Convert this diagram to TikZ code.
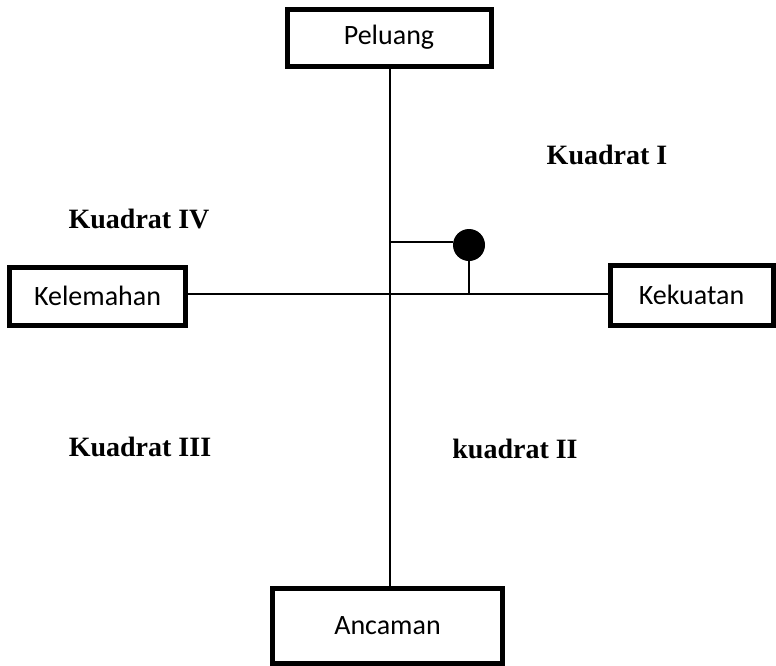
\documentclass[tikz,border=0pt]{standalone}
\usepackage{fontspec}
\setmainfont{Liberation Serif}
\newfontfamily\boxfont{Carlito}
\begin{document}
\begin{tikzpicture}[x=1pt,y=-1pt,
  lbl/.style={draw=black,line width=5pt,fill=white,font=\boxfont\fontsize{28}{30}\selectfont,inner sep=0pt},
  quad/.style={font=\bfseries\fontsize{28}{30}\selectfont,inner sep=0pt},
  axis/.style={line width=2pt}]
\useasboundingbox (0,0) rectangle (776,665);
% axes
\coordinate (vt) at (390,66);
\coordinate (vb) at (390,588);
\coordinate (hl) at (188,294);
\coordinate (hr) at (764,294);
\draw[axis] (vt) -- (vb);
\draw[axis] (hl) -- (hr);
% boxes
\node[lbl,minimum width=204,minimum height=57] (pel) at (389,37.5) {Peluang};
\node[lbl,minimum width=176,minimum height=58] (kel) at (97.5,296) {Kelemahan};
\node[lbl,minimum width=163,minimum height=60] (kek) at (691.5,295) {Kekuatan};
\node[lbl,minimum width=230,minimum height=75] (anc) at (387.5,625.5) {Ancaman};
% point
\node[circle,fill=black,minimum size=32,inner sep=0pt] (pt) at (469,245) {};
\coordinate (ptl) at (390,242);
\coordinate (ptb) at (469,294);
\draw[axis] (ptl) -- (pt.west |- ptl);
\draw[axis] (pt) -- (ptb);
% quadrant labels
\node[quad] (q1) at (607,155) {Kuadrat I};
\node[quad] (q4) at (139,219) {Kuadrat IV};
\node[quad] (q3) at (140,447) {Kuadrat III};
\node[quad] (q2) at (515,449) {kuadrat II};
\end{tikzpicture}
\end{document}
